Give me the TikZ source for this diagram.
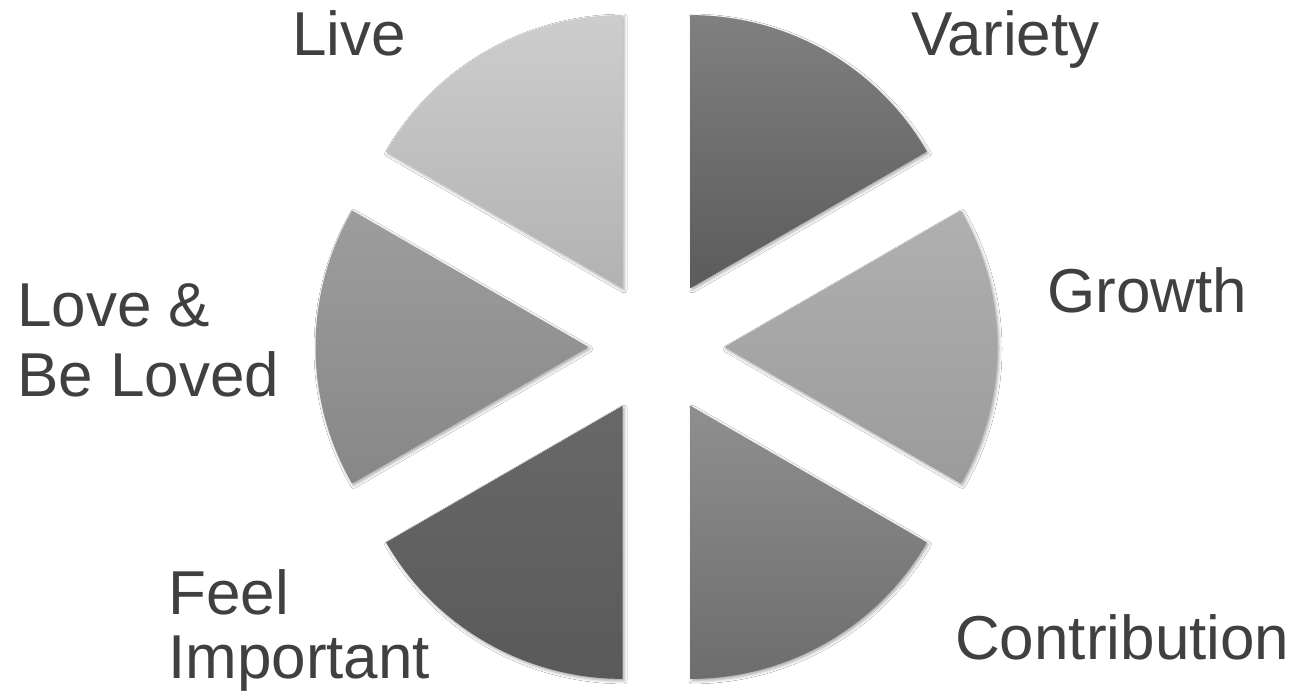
\documentclass[tikz,border=0pt]{standalone}
\usepackage{fontspec}
\setmainfont{Liberation Sans}
\usetikzlibrary{shadows.blur}
\definecolor{txt}{HTML}{404040}
\begin{document}
\begin{tikzpicture}[x=1pt,y=1pt,
  sector/.style={blur shadow={shadow xshift=1.5pt,shadow yshift=-2pt,shadow blur radius=3pt,shadow opacity=35}},
  lbl/.style={anchor=base west,inner sep=0pt,text=txt,align=left,font=\fontsize{62}{70}\selectfont}]
\useasboundingbox[fill=white] (0,0) rectangle (1307,696);
\coordinate (C) at (656.5,349);
\def\R{273}
\foreach \name/\bis/\top/\bot in {var/60/808080/5b5b5b, live/120/cdcdcd/b2b2b2, love/180/9d9d9d/878787, feel/240/686868/5a5a5a, contr/300/8f8f8f/6d6d6d, grow/0/b0b0b0/9b9b9b}{
  \definecolor{tc}{HTML}{\top}\definecolor{bc}{HTML}{\bot}
  \coordinate (\name) at ($(C)+(\bis:68)$);
  \shade[sector,top color=tc,bottom color=bc] (\name) -- ++(\bis-30:\R) arc[start angle=\bis-30,end angle=\bis+30,radius=\R] -- cycle;
}
\node[lbl] (tlive) at (292,640) {Live};
\node[lbl] (tvar) at (911,640) {Variety};
\node[lbl] (tgrow) at (1047,383) {Growth};
\node[lbl] (tlove) at (17,299) {Love \&\\Be Loved};
\node[lbl,font=\fontsize{62}{64}\selectfont] (tfeel) at (168,17) {Feel\\Important};
\node[lbl] (tcontr) at (955,36) {Contribution};
\end{tikzpicture}
\end{document}
